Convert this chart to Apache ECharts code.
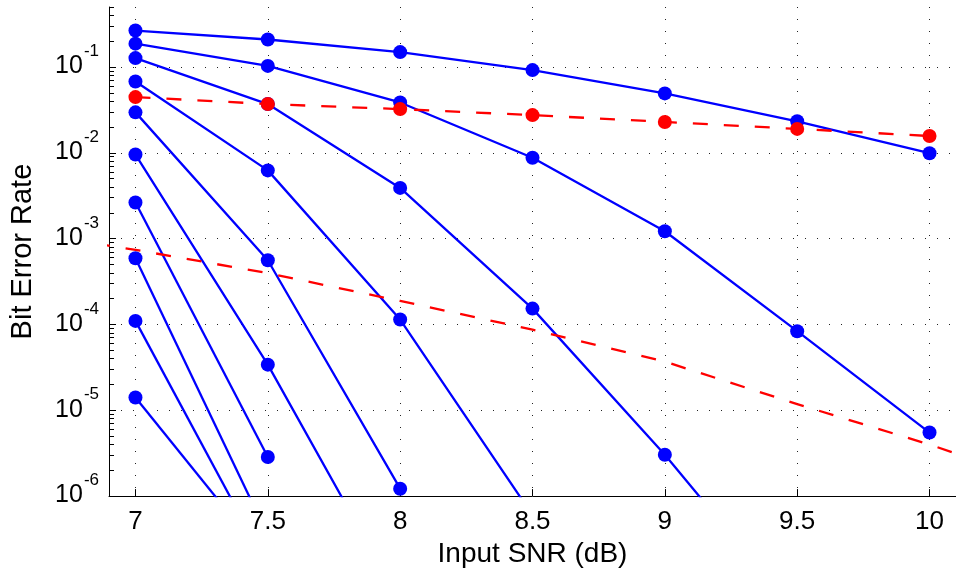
<!DOCTYPE html>
<html>
<head>
<meta charset="utf-8">
<script src="https://cdn.jsdelivr.net/npm/echarts@6/dist/echarts.min.js"></script>
<style>
  html, body { margin: 0; padding: 0; background: #fff; }
  #chart { width: 956px; height: 573px; }
</style>
</head>
<body>
<div id="chart"></div>
<script>
  // input SNR (dB)
  var snr = [7, 7.5, 8, 8.5, 9, 9.5, 10];
  // simulated BER curves, one per iteration (null = not plotted)
  var ber1 = [0.266, 0.209, 0.149, 0.092, 0.0492, 0.0233, 0.0099];
  var ber2 = [0.187, 0.103, 0.0386, 0.00875, 0.00122, 8.35e-5, 5.5e-6];
  var ber3 = [0.127, 0.037, 0.0039, 1.53e-4, 3.03e-6, 4.2e-8, null];
  var ber4 = [0.0678, 0.00624, 1.14e-4, 6.0e-7, null, null, null];
  var ber5 = [0.0296, 5.6e-4, 1.22e-6, null, null, null, null];
  var ber6 = [9.55e-3, 3.4e-5, 5.9e-8, null, null, null, null];
  var ber7 = [2.64e-3, 2.85e-6, null, null, null, null, null];
  var ber8 = [5.9e-4, 3.5e-7, null, null, null, null, null];
  var ber9 = [1.1e-4, 1.5e-7, null, null, null, null, null];
  var ber10 = [1.41e-5, 1.73e-7, null, null, null, null, null];
  // red curve with markers
  var uncoded = [0.0446, 0.037, 0.0323, 0.0275, 0.0229, 0.019, 0.0157];
  // red dashed bound, no markers
  var boundSnr = [6.5, 7, 7.5, 8, 8.5, 9, 9.5, 10, 10.5];
  var bound = [1.3e-3, 7.4e-4, 3.96e-4, 1.88e-4, 8.7e-5, 3.69e-5, 1.18e-5, 3.99e-6, 1.2e-6];

  var xTicks = [7, 7.5, 8, 8.5, 9, 9.5, 10];
  var yTicks = [1e-6, 1e-5, 1e-4, 1e-3, 1e-2, 1e-1];

  var minorTicks = [];
  yTicks.forEach(function (d) {
    for (var k = 2; k <= 9; k++) {
      if (d * k <= 0.5) minorTicks.push(d * k);
    }
  });

  var font = '"Liberation Sans", Arial, sans-serif';

  function pairs(xs, ys) {
    var out = [];
    for (var i = 0; i < xs.length; i++) {
      if (ys[i] != null) out.push([xs[i], ys[i]]);
    }
    return out;
  }

  var blueSets = [ber1, ber2, ber3, ber4, ber5, ber6, ber7, ber8, ber9, ber10];
  var series = blueSets.map(function (arr, i) {
    return {
      name: 'iter' + (i + 1),
      type: 'line',
      data: pairs(snr, arr),
      symbol: 'circle',
      symbolSize: 14,
      clip: true,
      lineStyle: { color: '#0000ff', width: 2.3 },
      itemStyle: { color: '#0000ff' },
      z: 2
    };
  });
  series.push({
    name: 'uncoded',
    type: 'line',
    data: pairs(snr, uncoded),
    symbol: 'circle',
    symbolSize: 14,
    clip: true,
    lineStyle: { color: '#ff0000', width: 2.3, type: [15, 16] },
    itemStyle: { color: '#ff0000' },
    z: 3
  });
  series.push({
    name: 'bound',
    type: 'line',
    data: pairs(boundSnr, bound),
    symbol: 'none',
    showSymbol: false,
    clip: true,
    lineStyle: { color: '#ff0000', width: 2.3, type: [15, 16] },
    z: 3
  });

  var chart = echarts.init(document.getElementById('chart'));
  chart.setOption({
    animation: false,
    backgroundColor: '#fff',
    grid: { left: 108, right: 0, top: 7, bottom: 74, containLabel: false },
    xAxis: {
      type: 'value',
      min: 6.9,
      max: 10.1,
      name: 'Input SNR (dB)',
      nameLocation: 'middle',
      nameGap: 40,
      nameTextStyle: { fontSize: 28, color: '#000', fontFamily: font },
      axisLine: { show: true, lineStyle: { color: '#000', width: 1 } },
      axisTick: { show: true, inside: true, length: 7, customValues: xTicks, lineStyle: { color: '#000' } },
      axisLabel: {
        customValues: xTicks,
        fontSize: 26,
        color: '#000',
        fontFamily: font,
        margin: 13,
        formatter: function (v) { return String(v); }
      },
      splitLine: { show: true, lineStyle: { color: '#222', width: 1, type: [1, 11] } }
    },
    yAxis: [{
      type: 'log',
      min: 1e-6,
      max: 0.5,
      name: 'Bit Error Rate',
      nameLocation: 'middle',
      nameGap: 72,
      nameTextStyle: { fontSize: 29, color: '#000', fontFamily: font },
      axisLine: { show: true, lineStyle: { color: '#000', width: 1 } },
      axisTick: { show: true, inside: true, length: 7, customValues: yTicks, lineStyle: { color: '#000' } },
      axisLabel: {
        customValues: yTicks,
        margin: 10,
        padding: [0, 0, 12, 0],
        formatter: function (v) {
          var e = Math.round(Math.log(v) / Math.LN10);
          return '{b|10}{s|' + e + '}';
        },
        rich: {
          b: { fontSize: 25, color: '#000', fontFamily: font, lineHeight: 36, verticalAlign: 'bottom' },
          s: { fontSize: 17, color: '#000', fontFamily: font, lineHeight: 36, verticalAlign: 'top', padding: [0, 0, 0, 1] }
        }
      },
      splitLine: { show: true, lineStyle: { color: '#222', width: 1, type: [1, 11] } }
    }, {
      type: 'log',
      min: 1e-6,
      max: 0.5,
      position: 'left',
      axisLine: { show: false },
      axisTick: { show: true, inside: true, length: 5, customValues: minorTicks, lineStyle: { color: '#000' } },
      axisLabel: { show: false },
      splitLine: { show: false }
    }],
    series: series
  });
</script>
</body>
</html>
